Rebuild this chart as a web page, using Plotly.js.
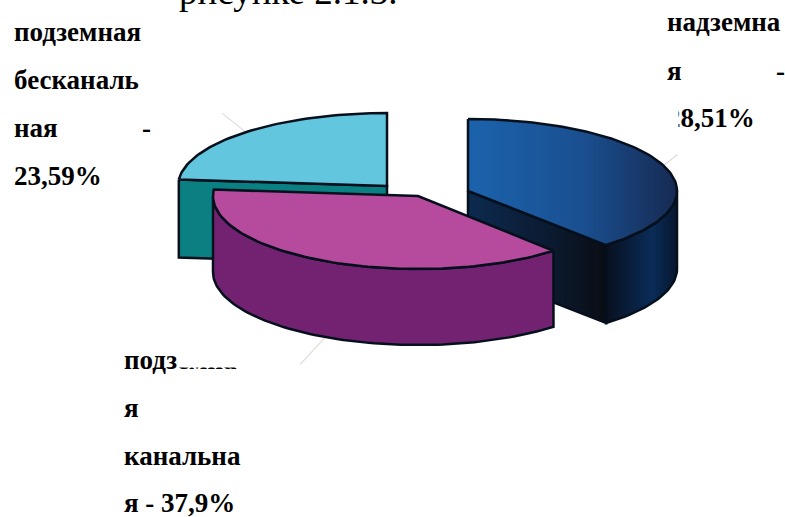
<!DOCTYPE html>
<html><head><meta charset="utf-8">
<script src="https://cdn.plot.ly/plotly-3.0.1.min.js"></script>
<style>html,body{margin:0;padding:0;background:#fff}#c{width:785px;height:517px}</style>
</head><body><div id="c"></div>
<script>
// data
const categories = ["надземная", "подземная канальная", "подземная бесканальная"];
const shares = [38.51, 37.9, 23.59];

// pie projection (pixels of the picture)
const centers = [[468,191],[418,196],[387,186]];
const radiiX = [209,205,209];
const radiiY = [72,73,73];
const depths = [78,76,78];
const topFill = ["#1a5aa2", "#b64a9c", "#62c6de"];
const outline = "#06101c";

let cum = 0;
const slices = shares.map((v,i)=>{const a0=cum; cum+=v*3.6; return {a0,a1:cum,c:centers[i],rx:radiiX[i],ry:radiiY[i],dp:depths[i]};});
const pt = (s,a,d=0)=>{const r=a*Math.PI/180; return [s.c[0]+s.rx*Math.sin(r), s.c[1]-s.ry*Math.cos(r)+d];};
const arc = (s,a0,a1,d=0)=>{const o=[];const n=Math.max(2,Math.ceil(Math.abs(a1-a0)/1.5));
  for(let k=0;k<=n;k++)o.push(pt(s,a0+(a1-a0)*k/n,d));return o;};
function poly(points,fill,extra){
  const p=points.concat([points[0]]);
  return Object.assign({type:"scatter",mode:"lines",x:p.map(q=>q[0]),y:p.map(q=>q[1]),
    fill:"toself",fillcolor:fill,line:{color:outline,width:2.5,shape:"linear"},hoverinfo:"skip",showlegend:false},extra||{});
}
const grad = cs => ({fillgradient:{type:"horizontal",colorscale:cs}});
function leader(s,dx,dy,d){const m=pt(s,(s.a0+s.a1)/2,d);
  return {type:"scatter",mode:"lines",x:[m[0],m[0]+dx],y:[m[1],m[1]+dy],line:{color:"#dcdcdc",width:1.2},hoverinfo:"skip",showlegend:false};}

const [B,M,C]=slices;
const traces=[];
traces.push(leader(C,-24,-19,0), leader(B,14,-11,0), leader(M,-25,27,M.dp));
// cyan slice: radial wall, then top
traces.push(poly([pt(C,C.a0),C.c,[C.c[0],C.c[1]+C.dp],pt(C,C.a0,C.dp)],"#0a8082"));
traces.push(poly(arc(C,C.a0,C.a1).concat([C.c]),topFill[2]));
// blue slice: radial wall, outer wall, top
traces.push(poly([B.c,pt(B,B.a1),pt(B,B.a1,B.dp),[B.c[0],B.c[1]+B.dp]],"#0c1a30",
  grad([[0,"#0c2a50"],[0.6,"#0b1a30"],[1,"#0a0d14"]])));
traces.push(poly(arc(B,90,B.a1).concat(arc(B,B.a1,90,B.dp)),"#0a2448",
  grad([[0,"#08101f"],[0.65,"#0a2c58"],[1,"#06162e"]])));
traces.push(poly(arc(B,B.a0,B.a1).concat([B.c]),topFill[0],
  grad([[0,"#1b63ad"],[0.55,"#1a4f90"],[1,"#162a52"]])));
// magenta slice: outer wall, top
traces.push(poly(arc(M,M.a0,270).concat(arc(M,270,M.a0,M.dp)),"#732272"));
traces.push(poly(arc(M,M.a0,M.a1).concat([M.c]),topFill[1]));

// text
const FS=27;
const label=(t,x,base,fs)=>{fs=fs||FS;return {text:t,x:x,y:base-0.3*fs-2,xref:"x",yref:"y",xanchor:"left",yanchor:"middle",
  showarrow:false,borderpad:0,font:{family:"Liberation Serif",size:fs,color:"#000"}};};
const b=t=>"<b>"+t+"</b>";
const patch=(x0,x1,y0,y1)=>({text:" ",x:x0,y:y0,xref:"x",yref:"y",xanchor:"left",yanchor:"top",width:x1-x0,height:y1-y0,
  showarrow:false,bgcolor:"#fff",borderpad:0,font:{size:1}});
const anns=[
  {text:"рисунке 2.1.3.",x:178,y:13,xref:"x",yref:"y",xanchor:"left",yanchor:"bottom",showarrow:false,borderpad:0,
   font:{family:"Liberation Serif",size:37,color:"#000"}},
  label(b("подземная"),13,42),label(b("бесканаль"),13,90),label(b("ная"),13,138),label(b("-"),141,138),label(b("23,59%"),13,186),
  label(b("надземна"),666,32),label(b("я"),666,81),label(b("-"),775,81),label(b("28,51%"),666,128),
  patch(652,677,108,131),
  label(b("подземна"),123,370),label(b("я"),123,418),label(b("канальна"),123,466),label(b("я - 37,9%"),123,513),
  patch(177,238,340,366)
];

Plotly.newPlot("c",traces,{
  width:785,height:517,margin:{l:0,r:0,t:0,b:0},paper_bgcolor:"#fff",plot_bgcolor:"#fff",showlegend:false,
  xaxis:{range:[0,785],visible:false,fixedrange:true},
  yaxis:{range:[517,0],visible:false,fixedrange:true},
  annotations:anns
},{displayModeBar:false,staticPlot:true});
</script></body></html>
